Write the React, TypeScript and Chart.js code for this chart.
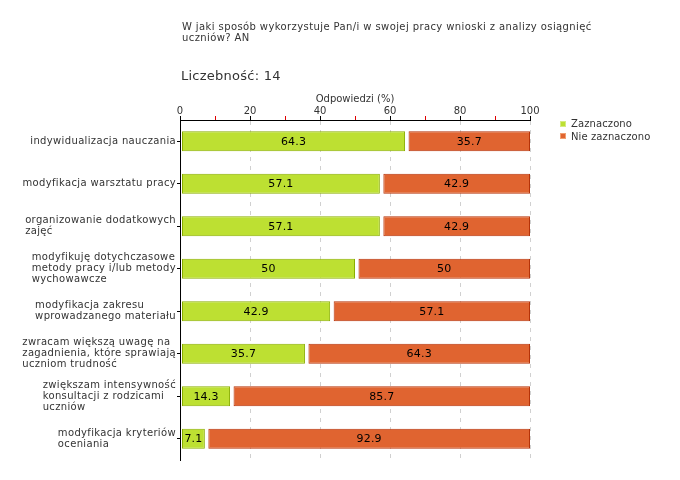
import React, { useEffect, useRef } from "react";
import { Chart, registerables } from "chart.js";

Chart.register(...registerables);

const titleLines = [
  "W jaki sposób wykorzystuje Pan/i w swojej pracy wnioski z analizy osiągnięć",
  "uczniów? AN",
];
const countLabel = "Liczebność: 14";
const axisTitle = "Odpowiedzi (%)";

const categories: string[][] = [
  ["indywidualizacja nauczania"],
  ["modyfikacja warsztatu pracy"],
  ["organizowanie dodatkowych", "zajęć"],
  ["modyfikuję dotychczasowe", "metody pracy i/lub metody", "wychowawcze"],
  ["modyfikacja zakresu", "wprowadzanego materiału"],
  ["zwracam większą uwagę na", "zagadnienia, które sprawiają", "uczniom trudność"],
  ["zwiększam intensywność", "konsultacji z rodzicami", "uczniów"],
  ["modyfikacja kryteriów", "oceniania"],
];

const seriesNames = ["Zaznaczono", "Nie zaznaczono"];
const zaznaczono = [64.3, 57.1, 57.1, 50, 42.9, 35.7, 14.3, 7.1];
const nieZaznaczono = [35.7, 42.9, 42.9, 50, 57.1, 64.3, 85.7, 92.9];

const fills = ["#bde032", "#e06430"];
const borders = ["#8aae00", "#b53208"];

const FONT = "'DejaVu Sans', Verdana, sans-serif";

export default function App() {
  const ref = useRef<HTMLCanvasElement | null>(null);

  useEffect(() => {
    if (!ref.current) return;

    const barInset = {
      id: "barInset",
      afterDatasetsUpdate(chart: any) {
        chart.data.datasets.forEach((_: any, di: number) => {
          const meta = chart.getDatasetMeta(di);
          meta.data.forEach((el: any) => {
            el.base = el.base + (di === 0 ? 1.5 : 3.5);
          });
        });
      },
    };

    const valueLabels = {
      id: "valueLabels",
      afterDatasetsDraw(chart: any) {
        const ctx = chart.ctx;
        ctx.save();
        ctx.font = `11px ${FONT}`;
        (ctx as any).letterSpacing = "0.2px";
        ctx.fillStyle = "#000";
        ctx.textAlign = "center";
        ctx.textBaseline = "middle";
        chart.data.datasets.forEach((ds: any, di: number) => {
          const meta = chart.getDatasetMeta(di);
          meta.data.forEach((el: any, i: number) => {
            const cx = (el.x + el.base) / 2;
            ctx.fillText(String(ds.data[i]), cx, el.y + 0.5);
          });
        });
        ctx.restore();
      },
    };

    const catLabels = {
      id: "catLabels",
      afterDraw(chart: any) {
        const ctx = chart.ctx;
        const ys = chart.scales.y;
        ctx.save();
        ctx.font = `10px ${FONT}`;
        (ctx as any).letterSpacing = "0.35px";
        ctx.fillStyle = "#333";
        ctx.textAlign = "left";
        ctx.textBaseline = "middle";
        const lh = 11;
        categories.forEach((lines, i) => {
          const y = ys.getPixelForTick(i);
          const w = Math.max(...lines.map((l) => ctx.measureText(l).width));
          const x = ys.right - 4 - w;
          const y0 = y - ((lines.length - 1) * lh) / 2;
          lines.forEach((l, k) => ctx.fillText(l, x, y0 + k * lh));
        });
        ctx.restore();
      },
    };

    const chart = new Chart(ref.current, {
      type: "bar",
      data: {
        labels: categories.map((c) => c.join(" ")),
        datasets: [
          {
            label: seriesNames[0],
            data: zaznaczono,
            backgroundColor: fills[0],
            borderColor: borders[0],
            borderWidth: 1,
            borderSkipped: false,
            inflateAmount: 0,
            barPercentage: 0.47,
            categoryPercentage: 1,
          },
          {
            label: seriesNames[1],
            data: nieZaznaczono,
            backgroundColor: fills[1],
            borderColor: borders[1],
            borderWidth: 1,
            borderSkipped: false,
            inflateAmount: 0,
            barPercentage: 0.47,
            categoryPercentage: 1,
          },
        ],
      },
      options: {
        indexAxis: "y",
        responsive: false,
        animation: false,
        layout: { padding: { left: 0, right: 150, top: 90, bottom: 20 } },
        plugins: {
          legend: { display: false },
          tooltip: { enabled: false },
        },
        scales: {
          x: {
            position: "top",
            stacked: true,
            min: 0,
            max: 100,
            afterFit: (s: any) => {
              s.height = 30;
            },
            ticks: {
              stepSize: 10,
              padding: -1.5,
              color: "#333",
              font: { family: FONT, size: 10 },
              callback: (v: any) => (Number(v) % 20 === 0 ? String(v) : ""),
            },
            title: {
              display: true,
              text: axisTitle,
              color: "#333",
              font: { family: FONT, size: 10 },
              padding: { top: 3, bottom: 0 },
            },
            grid: {
              color: (c: any) =>
                c.tick && c.tick.value % 20 === 0 && c.tick.value !== 0 ? "#d0d0d0" : "rgba(0,0,0,0)",
              tickColor: (c: any) =>
                c.tick && c.tick.value % 20 === 0 ? "#000" : "#e00000",
              tickLength: 4,
              lineWidth: 1,
            },
            border: { display: true, color: "#000", width: 1, dash: [4, 5] },
          },
          y: {
            stacked: true,
            afterFit: (s: any) => {
              s.width = 180;
            },
            ticks: { display: false },
            grid: {
              offset: false,
              drawOnChartArea: false,
              tickLength: 3,
              tickColor: "#000",
            },
            border: { display: true, color: "#000", width: 1 },
          },
        },
      },
      plugins: [barInset, valueLabels, catLabels],
    });

    return () => chart.destroy();
  }, []);

  const textStyle: React.CSSProperties = {
    position: "absolute",
    fontFamily: FONT,
    color: "#333",
    whiteSpace: "nowrap",
  };

  return (
    <div style={{ position: "absolute", left: 0, top: 0, width: 680, height: 480, background: "#fff" }}>
      <canvas ref={ref} width={680} height={480} style={{ position: "absolute", left: 0, top: 0 }} />
      <div style={{ ...textStyle, left: 182, top: 21, fontSize: 10, lineHeight: "11px", letterSpacing: "0.4px" }}>
        {titleLines.map((l, i) => (
          <div key={i}>{l}</div>
        ))}
      </div>
      <div style={{ ...textStyle, left: 181, top: 68, fontSize: 13, lineHeight: "15px", letterSpacing: "0.25px" }}>
        {countLabel}
      </div>
      {seriesNames.map((name, i) => (
        <div
          key={name}
          style={{
            ...textStyle,
            left: 560,
            top: 118 + i * 12.5,
            fontSize: 10,
            lineHeight: "11px",
            letterSpacing: "0.1px",
            display: "flex",
            alignItems: "center",
          }}
        >
          <span
            style={{
              display: "inline-block",
              width: 4,
              height: 4,
              background: fills[i],
              border: `1px solid ${i === 0 ? "#d5ec80" : "#f0a070"}`,
              marginRight: 5,
            }}
          />
          {name}
        </div>
      ))}
    </div>
  );
}
